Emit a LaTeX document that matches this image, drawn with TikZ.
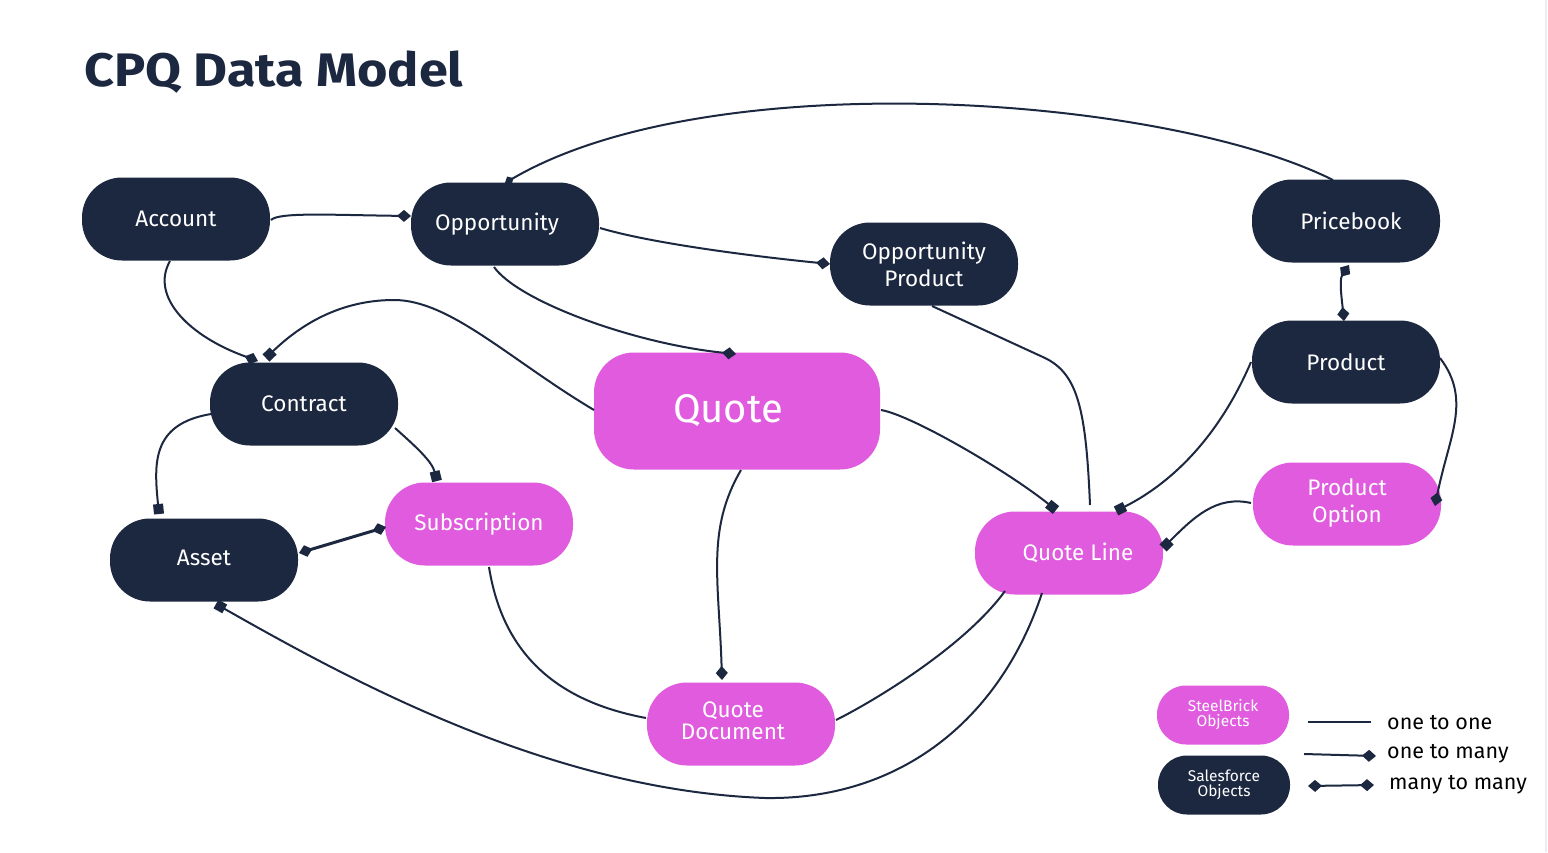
\documentclass[tikz,border=0pt]{standalone}
\usepackage{fontspec}
\setmainfont{Fira Sans}
\usetikzlibrary{arrows.meta,calc}
\definecolor{navy}{RGB}{28,39,64}
\definecolor{pinkobj}{RGB}{224,91,222}
\definecolor{edgegray}{RGB}{236,234,242}
\tikzset{
  obj/.style={rounded corners=40pt, minimum width=188pt, minimum height=83pt, inner sep=0pt,
    text=white, font=\fontsize{22.5}{27}\selectfont, align=center},
  sfobj/.style={obj, fill=navy},
  sbobj/.style={obj, fill=pinkobj},
  legobj/.style={rounded corners=29pt, minimum width=132pt, minimum height=59pt, inner sep=0pt,
    text=white, font=\fontsize{15.5}{15}\selectfont, align=center},
  link/.style={draw=navy, line width=2pt},
  todia/.style={-{Diamond[length=14pt,width=12pt]}},
  smalldia/.style={-{Diamond[length=10pt,width=9pt]}},
  tosq/.style={-{Square[length=10pt,width=10pt]}},
  bothdia/.style={{Diamond[length=14pt,width=12pt]}-{Diamond[length=14pt,width=12pt]}},
  legtext/.style={anchor=west, text=black, font=\fontsize{21.5}{24}\selectfont, inner sep=0pt}
}
\begin{document}
\begin{tikzpicture}[x=1pt,y=-1pt]
\fill[white] (0,0) rectangle (1548,852);
\useasboundingbox (0,0) rectangle (1548,852);
\draw[draw=edgegray, line width=1.2pt] (1546,0) -- (1546,852);

% title
\node[anchor=west, text=navy, font=\fontsize{47}{50}\selectfont\bfseries, inner sep=0pt] (title) at (84,72) {\scalebox{1.11}[1]{CPQ Data Model}};

% nodes
\node[sfobj] (acc) at (176,219) {Account};
\node[sfobj] (opp) at (505,224) {\hspace*{-16pt}Opportunity};
\node[sfobj] (oppp) at (924,264) {Opportunity\\Product};
\node[sfobj] (pb) at (1346,221) {\hspace*{10pt}Pricebook};
\node[sfobj] (prod) at (1346,362) {Product};
\node[sbobj] (popt) at (1347,504) {\raisebox{-3pt}{\begin{tabular}{@{}c@{}}Product\\Option\end{tabular}}};
\node[sfobj] (con) at (304,404) {Contract};
\node[sfobj] (asset) at (204,560) {\raisebox{5pt}{Asset}};
\node[sbobj] (sub) at (479,524) {Subscription};
\node[sbobj, minimum width=286pt, minimum height=117pt, font=\fontsize{40}{44}\selectfont] (quote) at (737,411) {\hspace*{-18pt}Quote};
\node[sbobj, font=\fontsize{22.5}{22}\selectfont] (qline) at (1069,553) {\hspace*{18pt}Quote Line};
\node[sbobj, font=\fontsize{22.5}{22}\selectfont] (qdoc) at (741,724) {\hspace*{-16pt}\raisebox{7pt}{\begin{tabular}{@{}c@{}}Quote\\Document\end{tabular}}};

% connectors
\draw[link, todia] ($(acc)+(95,1)$) .. controls +(8,-8) and +(-80,-1) .. ($(opp)+(-94,-8)$);
\draw[link, todia] ($(acc)+(-6,42)$) .. controls +(-20,35) and +(-70,-25) .. ($(con)+(-46,-43)$);
\draw[link, tosq] ($(quote)+(-143,-1)$) .. controls (510,360) and (450,300) .. (394,300)
   .. controls (340,300) and (300,325) .. ($(con)+(-38,-46)$);
\draw[link, todia] ($(opp)+(95,4)$) .. controls +(50,15) and +(-80,-8) .. ($(oppp)+(-94,0)$);
\draw[link, todia] ($(opp)+(-11,43)$) .. controls +(25,35) and +(-100,-10) .. ($(quote)+(-1,-57)$);
\draw[link, smalldia] ($(pb)+(-13,-41)$) .. controls +(-170,-85) and +(205,-120) .. ($(opp)+(0,-41)$);
\draw[link] ($(oppp)+(8,42)$) -- (1045,358) .. controls (1078,374) and (1086,410) .. ($(qline)+(21,-48)$);
\draw[link, tosq] ($(quote)+(144,-1)$) .. controls +(30,5) and +(-50,-40) .. ($(qline)+(-13,-43)$);
\draw[link, tosq] ($(prod)+(-95,0)$) .. controls +(-30,70) and +(60,-30) .. ($(qline)+(47,-42)$);
\draw[link, bothdia] ($(pb)+(3,44)$) .. controls +(-10,15) and +(-2,-20) .. ($(prod)+(-2,-41)$);
\draw[link, todia] ($(prod)+(94,-4)$) .. controls +(32,42) and +(14,-70) .. ($(popt)+(88,2)$);
\draw[link, tosq] ($(popt)+(-96,-1)$) .. controls +(-35,-8) and +(30,-30) .. ($(qline)+(94,-5)$);
\draw[link, tosq] ($(con)+(-93,10)$) .. controls +(-60,10) and +(-5,-50) .. ($(asset)+(-45,-46)$);
\draw[link, tosq] ($(con)+(91,24)$) .. controls +(20,18) and +(-5,-20) .. ($(sub)+(-42,-43)$);
\draw[link, line width=3pt, bothdia] ($(asset)+(95,-7)$) -- ($(sub)+(-93,3)$);
\draw[link] ($(sub)+(10,43)$) .. controls +(15,95) and +(-80,-15) .. ($(qdoc)+(-95,-6)$);
\draw[link, todia] ($(quote)+(4,59)$) .. controls +(-35,60) and +(-3,-100) .. ($(qdoc)+(-19,-44)$);
\draw[link] ($(qline)+(-64,38)$) .. controls +(-40,55) and +(40,-20) .. ($(qdoc)+(95,-4)$);
\draw[link, tosq] ($(qline)+(-27,40)$) .. controls (1000,720) and (900,800) .. (765,798)
   .. controls (550,790) and (350,680) .. ($(asset)+(12,44)$);

% legend
\node[legobj, fill=pinkobj] (leg1) at (1223,715) {SteelBrick\\Objects};
\node[legobj, fill=navy] (leg2) at (1224,785) {Salesforce\\Objects};
\coordinate (l1a) at (1308,722); \coordinate (l1b) at (1371,722);
\coordinate (l2a) at (1304,754); \coordinate (l2b) at (1376,756);
\coordinate (l3a) at (1308,786); \coordinate (l3b) at (1374,785);
\draw[link] (l1a) -- (l1b);
\draw[link, todia] (l2a) -- (l2b);
\draw[link, bothdia] (l3a) -- (l3b);
\node[legtext] (t1) at (1387,723) {one to one};
\node[legtext] (t2) at (1387,754) {one to many};
\node[legtext] (t3) at (1389,785) {many to many};
\end{tikzpicture}
\end{document}
